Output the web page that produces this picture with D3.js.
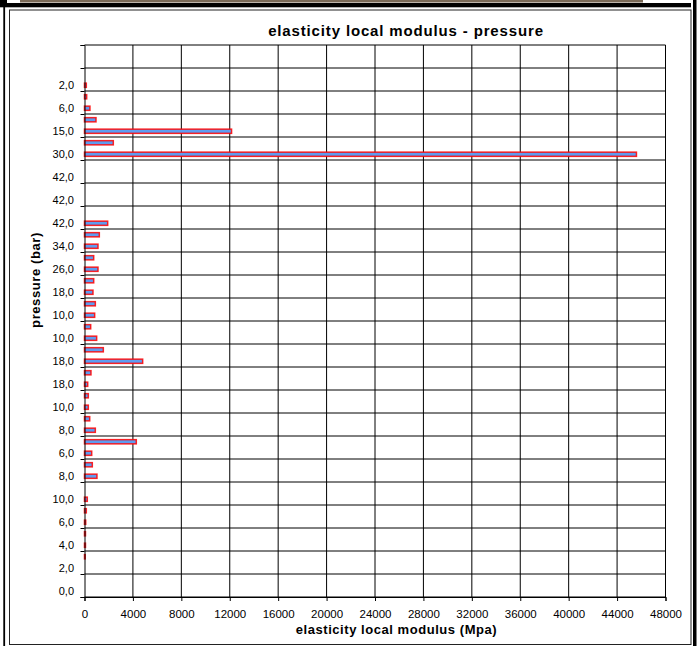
<!DOCTYPE html>
<html>
<head>
<meta charset="utf-8">
<script src="https://cdn.jsdelivr.net/npm/d3@7"></script>
<style>
  body { margin: 0; background: #fff; }
  svg { display: block; font-family: "Liberation Sans", Arial, sans-serif; }
</style>
</head>
<body>
<div id="chart"></div>
<script>
// categories listed from the bottom of the chart upwards (48 slots, every 2nd one labelled)
var pressureLabels = ["0,0", "2,0", "4,0", "6,0", "10,0", "8,0", "6,0", "8,0", "10,0", "18,0",
  "18,0", "10,0", "10,0", "18,0", "26,0", "34,0", "42,0", "42,0", "42,0", "30,0",
  "15,0", "6,0", "2,0", ""]

var modulus = [0, 0, 0, 60, 80, 80, 100, 150, 230, 0,
  1030, 645, 595, 4280, 895, 430, 315, 315, 265, 535,
  4805, 1555, 1005, 510, 840, 895, 700, 760, 1115, 760,
  1115, 1225, 1915, 0, 0, 0, 0, 0, 45600, 2380,
  12150, 950, 450, 180, 150, 0, 0, 0]

var xTicks = [0, 4000, 8000, 12000, 16000, 20000, 24000, 28000, 32000, 36000, 40000, 44000, 48000]

var W = 699, H = 646
var margin = {top: 45, right: 33.5, bottom: 49, left: 84.5},
    width = W - margin.left - margin.right,
    height = H - margin.top - margin.bottom

var svg = d3.select("#chart")
  .append("svg")
  .attr("width", W)
  .attr("height", H)

// page frame bits
svg.append("rect").attr("x", 20).attr("y", 0).attr("width", 623).attr("height", 2.5).attr("fill", "#7a6a58")
svg.append("rect").attr("x", 0).attr("y", 0).attr("width", 7).attr("height", 3).attr("fill", "#000")
svg.append("rect").attr("x", 0).attr("y", 3).attr("width", 691).attr("height", 4.3).attr("fill", "#000")
svg.append("rect").attr("x", 3.3).attr("y", 0).attr("width", 1.8).attr("height", H).attr("fill", "#000")
svg.append("rect").attr("x", 693).attr("y", 0).attr("width", 3.5).attr("height", H).attr("fill", "#000")
svg.append("rect")
  .attr("x", 9.5).attr("y", 10)
  .attr("width", 681.5).attr("height", 634.5)
  .attr("fill", "none")
  .attr("stroke", "#222")
  .attr("stroke-width", 1)

var g = svg.append("g")
  .attr("transform", `translate(${margin.left},${margin.top})`)

var x = d3.scaleLinear()
  .domain([0, 48000])
  .range([0, width])

// slot index scale (0 at bottom)
var yIdx = d3.scaleLinear()
  .domain([0, modulus.length])
  .range([height, 0])

var y = d3.scaleBand()
  .domain(d3.range(modulus.length))
  .range([height, 0])
  .paddingInner(0.635)
  .paddingOuter(0.3175)

// vertical grid
g.append("g")
  .selectAll("line")
  .data(xTicks.slice(1))
  .join("line")
  .attr("x1", d => x(d)).attr("x2", d => x(d))
  .attr("y1", 0).attr("y2", height)
  .attr("stroke", "#000")
  .attr("stroke-width", 1)

// horizontal grid every 2 slots
var bounds = d3.range(0, modulus.length + 1, 2)
g.append("g")
  .selectAll("line")
  .data(bounds)
  .join("line")
  .attr("x1", 0).attr("x2", width)
  .attr("y1", d => yIdx(d)).attr("y2", d => yIdx(d))
  .attr("stroke", "#000")
  .attr("stroke-width", 1)

// bars
g.append("g")
  .selectAll("rect")
  .data(modulus.map((v, i) => ({i: i, v: v})).filter(d => d.v > 0))
  .join("rect")
  .attr("x", x(0))
  .attr("y", d => y(d.i))
  .attr("width", d => x(d.v) - x(0))
  .attr("height", y.bandwidth())
  .attr("fill", "#5e9cf0")
  .attr("stroke", "#f00")
  .attr("stroke-opacity", 0.85)
  .attr("stroke-width", 1.5)

// y axis
var yAxis = g.append("g")
  .call(d3.axisLeft(yIdx).tickValues(bounds).tickSize(4).tickFormat(""))
yAxis.select(".domain").attr("stroke", "#000")
yAxis.selectAll(".tick line").attr("stroke", "#000")

g.append("g")
  .selectAll("text")
  .data(pressureLabels)
  .join("text")
  .attr("x", -10.5)
  .attr("y", (d, i) => yIdx(i * 2 + 0.5))
  .attr("dy", "0.35em")
  .attr("text-anchor", "end")
  .style("font-size", "11px")
  .attr("fill", "#000")
  .text(d => d)

// x axis
var xAxis = g.append("g")
  .attr("transform", `translate(0,${height})`)
  .call(d3.axisBottom(x).tickValues(xTicks).tickSize(4).tickPadding(9).tickFormat(d3.format("d")))
xAxis.select(".domain").attr("stroke", "#000")
xAxis.selectAll(".tick line").attr("stroke", "#000")
xAxis.selectAll("text")
  .style("font-size", "11.5px")
  .style("font-family", "'Liberation Sans', Arial, sans-serif")
  .attr("fill", "#000")

// titles
svg.append("text")
  .attr("x", 406)
  .attr("y", 36)
  .attr("text-anchor", "middle")
  .style("font-size", "15px")
  .style("font-weight", "bold")
  .style("letter-spacing", "0.85px")
  .text("elasticity local modulus - pressure")

svg.append("text")
  .attr("x", 396.5)
  .attr("y", 634)
  .attr("text-anchor", "middle")
  .style("font-size", "13px")
  .style("font-weight", "bold")
  .style("letter-spacing", "0.55px")
  .text("elasticity local modulus (Mpa)")

svg.append("text")
  .attr("transform", "translate(39.5,280) rotate(-90)")
  .attr("text-anchor", "middle")
  .style("font-size", "13px")
  .style("font-weight", "bold")
  .style("letter-spacing", "0.6px")
  .text("pressure (bar)")
</script>
</body>
</html>
